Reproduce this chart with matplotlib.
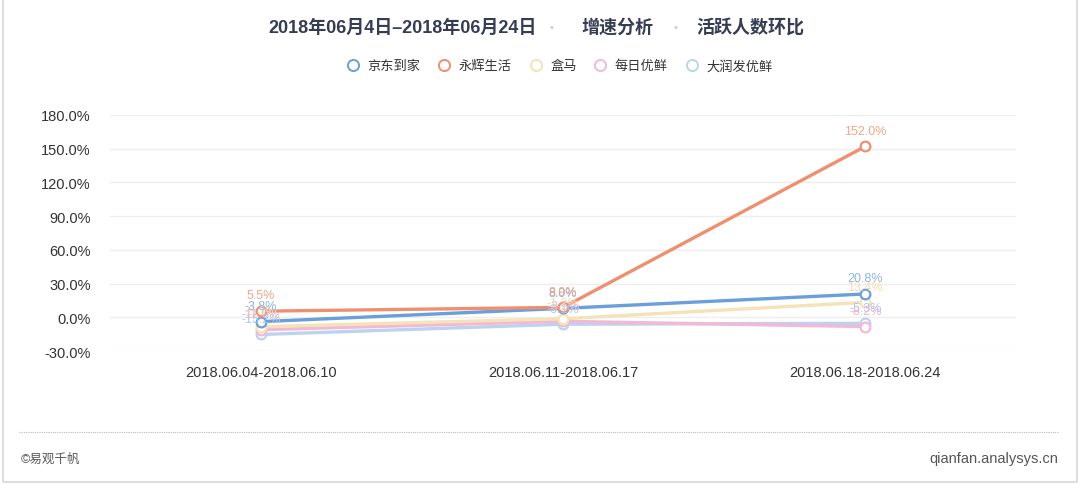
import numpy as np
import matplotlib
matplotlib.use('Agg')
from matplotlib import pyplot as plt
from matplotlib.patches import Rectangle
from matplotlib.lines import Line2D

plt.rcParams['font.family'] = ['Liberation Sans', 'Noto Sans CJK SC', 'DejaVu Sans']

# data
periods = ['2018.06.04-2018.06.10', '2018.06.11-2018.06.17', '2018.06.18-2018.06.24']
series_names = ['京东到家', '永辉生活', '盒马', '每日优鲜', '大润发优鲜']
jd_daojia = [-3.8, 8.0, 20.8]
yonghui = [5.5, 8.9, 152.0]
hema = [-8.3, -1.2, 13.4]
meiri = [-11.0, -3.5, -8.2]
darunfa = [-15.2, -6.1, -5.3]
series_values = [jd_daojia, yonghui, hema, meiri, darunfa]
colors = ['#6a9fdc', '#ee9070', '#f5e2b8', '#f2b9d6', '#bcd3f0']
label_colors = ['#8fb5e2', '#f0a688', '#f3dcb0', '#e6b8d8', '#a9c7ea']
y_ticks = [-30, 0, 30, 60, 90, 120, 150, 180]

fig = plt.figure(figsize=(10.8, 4.85), dpi=100)

# card border
fig.patches.append(Rectangle((0.003, 0.005), 0.994, 1.2, transform=fig.transFigure,
                             fill=False, edgecolor='#d8d8d8', linewidth=1.2))

ax = fig.add_axes([0.102, 0.274, 0.839, 0.487])
x = np.arange(len(periods))

# draw lines from back to front so the blue/orange lines sit on top
order = [4, 3, 2, 0, 1]
for i in order:
    ax.plot(x, series_values[i], color=colors[i], linewidth=2.4, marker='o',
            markersize=7, markerfacecolor='white', markeredgewidth=1.6,
            markeredgecolor=colors[i], zorder=3 + order.index(i))
    for xi, v in zip(x, series_values[i]):
        ax.annotate(f'{v:.1f}%', (xi, v), xytext=(0, 7), textcoords='offset points',
                    ha='center', va='bottom', fontsize=9, color=label_colors[i],
                    zorder=10)

ax.set_xlim(-0.5, 2.5)
ax.set_ylim(-30, 180)
ax.set_yticks(y_ticks)
ax.set_yticklabels([f'{t:.1f}%' for t in y_ticks], fontsize=10.5, color='#333333')
ax.set_xticks(x)
ax.set_xticklabels(periods, fontsize=10.5, color='#333333')
ax.tick_params(axis='both', length=0)
ax.tick_params(axis='y', pad=14)
ax.tick_params(axis='x', pad=10)
ax.grid(axis='y', color='#eeeeee', linewidth=1)
ax.set_axisbelow(True)
for s in ax.spines.values():
    s.set_visible(False)

# title, with light separators
title_color = '#363d52'
fig.text(0.497, 0.942, '2018年06月4日–2018年06月24日', ha='right', va='center',
         fontsize=13, color=title_color, fontweight='bold')
fig.text(0.511, 0.942, '•', ha='center', va='center', fontsize=8, color='#cccccc')
fig.text(0.572, 0.942, '增速分析', ha='center', va='center', fontsize=13,
         color=title_color, fontweight='bold')
fig.text(0.625, 0.942, '•', ha='center', va='center', fontsize=8, color='#cccccc')
fig.text(0.645, 0.942, '活跃人数环比', ha='left', va='center', fontsize=13,
         color=title_color, fontweight='bold')

# legend
handles = [Line2D([], [], linestyle='none', marker='o', markersize=8,
                  markerfacecolor='white', markeredgecolor=c, markeredgewidth=1.4)
           for c in colors]
fig.legend(handles, series_names, loc='center', bbox_to_anchor=(0.515, 0.862),
           ncol=5, frameon=False, fontsize=9.5, handletextpad=0.1,
           columnspacing=0.8, labelcolor='#333333')

# footer
fig.add_artist(Line2D([0.018, 0.98], [0.107, 0.107], transform=fig.transFigure,
                      color='#bbbbbb', linewidth=0.8, linestyle=(0, (1, 1))))
fig.text(0.019, 0.053, '©易观千帆', ha='left', va='center', fontsize=9, color='#555555')
fig.text(0.98, 0.053, 'qianfan.analysys.cn', ha='right', va='center', fontsize=10.5,
         color='#555555')

plt.savefig('out.png', dpi=100)
